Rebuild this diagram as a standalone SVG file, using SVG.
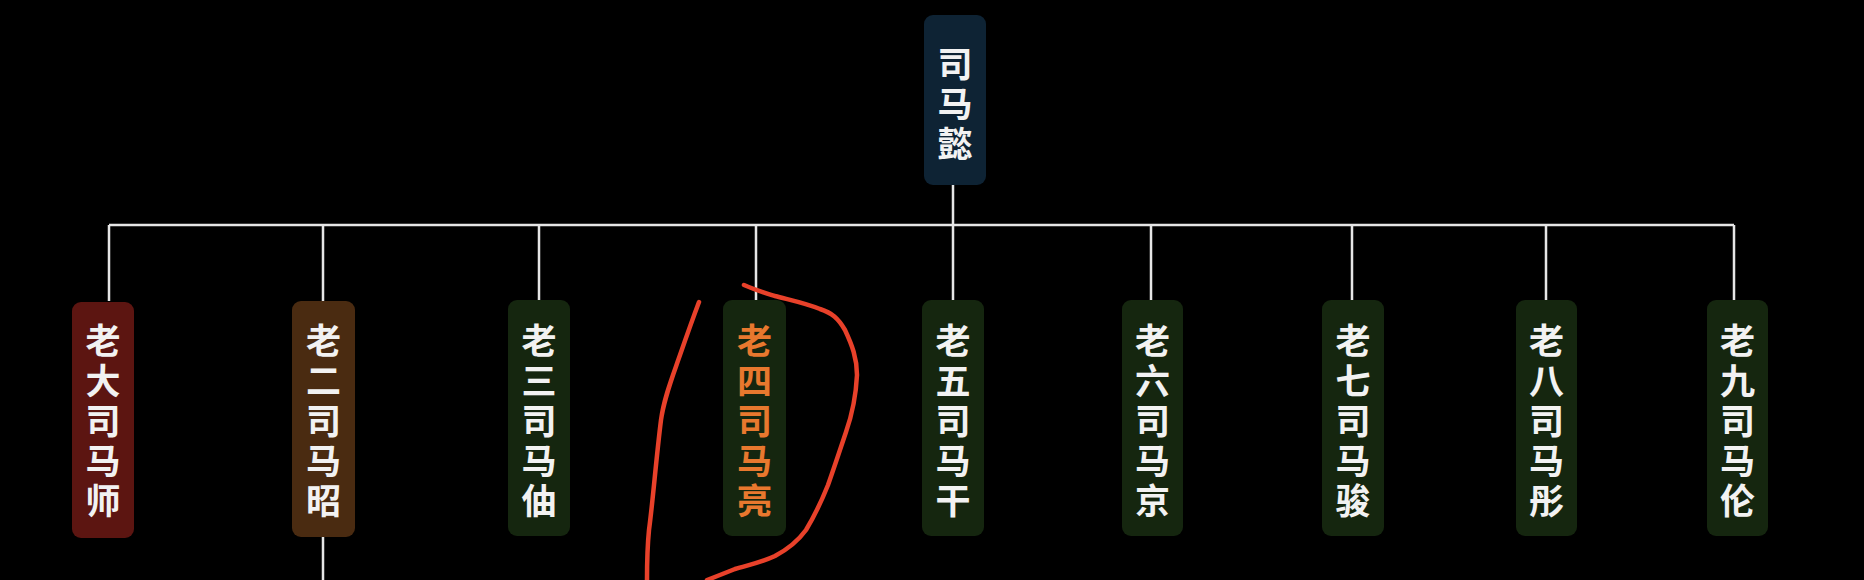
<svg xmlns="http://www.w3.org/2000/svg" width="1864" height="580" viewBox="0 0 1864 580">
<style>
.bg{fill:#000}
.box{rx:9;ry:9}
.root{fill:#0e2334}
.red{fill:#5c1511}
.brown{fill:#4a2b11}
.green{fill:#15260f}
.t{font-family:"Noto Sans CJK SC","Noto Sans CJK TC",sans-serif;font-size:35px;font-weight:700;fill:#f2f2f2;text-anchor:middle;dominant-baseline:central}
.o{fill:#e8782e}
.ln{stroke:#e6e6e6;stroke-width:2.5;fill:none}
.ann{stroke:#e8412a;stroke-width:4.5;fill:none;stroke-linecap:round;stroke-linejoin:round}
</style>
<rect class="bg" x="0" y="0" width="1864" height="580"/>
<g id="connectors">
<path class="ln" d="M953 185V225M109 225H1734M109 225V301M323 225V301M539 225V301M756 225V301M953 225V301M1151 225V301M1352 225V301M1546 225V301M1734 225V301M323 537V580"/>
</g>
<g id="root">
<rect class="box root" x="924" y="15" width="62" height="170"/>
<text class="t"><tspan x="955" y="61">司</tspan><tspan x="955" y="101">马</tspan><tspan x="955" y="141">懿</tspan></text>
</g>
<g id="n1">
<rect class="box red" x="72" y="302" width="62" height="236"/>
<text class="t"><tspan x="103" y="338">老</tspan><tspan x="103" y="378">大</tspan><tspan x="103" y="418">司</tspan><tspan x="103" y="458">马</tspan><tspan x="103" y="498">师</tspan></text>
</g>
<g id="n2">
<rect class="box brown" x="292" y="301" width="63" height="236"/>
<text class="t"><tspan x="323.5" y="338">老</tspan><tspan x="323.5" y="378">二</tspan><tspan x="323.5" y="418">司</tspan><tspan x="323.5" y="458">马</tspan><tspan x="323.5" y="498">昭</tspan></text>
</g>
<g id="n3">
<rect class="box green" x="508" y="300" width="62" height="236"/>
<text class="t"><tspan x="539" y="338">老</tspan><tspan x="539" y="378">三</tspan><tspan x="539" y="418">司</tspan><tspan x="539" y="458">马</tspan><tspan x="539" y="498">伷</tspan></text>
</g>
<g id="n4">
<rect class="box green" x="723" y="300" width="63" height="236"/>
<text class="t o"><tspan x="754.5" y="338">老</tspan><tspan x="754.5" y="378">四</tspan><tspan x="754.5" y="418">司</tspan><tspan x="754.5" y="458">马</tspan><tspan x="754.5" y="498">亮</tspan></text>
</g>
<g id="n5">
<rect class="box green" x="922" y="300" width="62" height="236"/>
<text class="t"><tspan x="953" y="338">老</tspan><tspan x="953" y="378">五</tspan><tspan x="953" y="418">司</tspan><tspan x="953" y="458">马</tspan><tspan x="953" y="498">干</tspan></text>
</g>
<g id="n6">
<rect class="box green" x="1122" y="300" width="61" height="236"/>
<text class="t"><tspan x="1152.5" y="338">老</tspan><tspan x="1152.5" y="378">六</tspan><tspan x="1152.5" y="418">司</tspan><tspan x="1152.5" y="458">马</tspan><tspan x="1152.5" y="498">京</tspan></text>
</g>
<g id="n7">
<rect class="box green" x="1322" y="300" width="62" height="236"/>
<text class="t"><tspan x="1353" y="338">老</tspan><tspan x="1353" y="378">七</tspan><tspan x="1353" y="418">司</tspan><tspan x="1353" y="458">马</tspan><tspan x="1353" y="498">骏</tspan></text>
</g>
<g id="n8">
<rect class="box green" x="1516" y="300" width="61" height="236"/>
<text class="t"><tspan x="1546.5" y="338">老</tspan><tspan x="1546.5" y="378">八</tspan><tspan x="1546.5" y="418">司</tspan><tspan x="1546.5" y="458">马</tspan><tspan x="1546.5" y="498">彤</tspan></text>
</g>
<g id="n9">
<rect class="box green" x="1707" y="300" width="61" height="236"/>
<text class="t"><tspan x="1737.5" y="338">老</tspan><tspan x="1737.5" y="378">九</tspan><tspan x="1737.5" y="418">司</tspan><tspan x="1737.5" y="458">马</tspan><tspan x="1737.5" y="498">伦</tspan></text>
</g>
<g id="annotation">
<path class="ann" d="M699 302C693 318 688 332 680 355C672 378 664 398 661 420C656 460 653 500 649 530C647 550 647 565 647 580"/>
<path class="ann" d="M744 285C755 290 762 292 775 296C790 300 805 303 820 309C832 313 838 318 845 330C852 345 857 358 857 375C856 395 853 412 846 432C840 450 834 468 828 485C822 500 815 515 806 530C798 541 790 548 775 556C760 563 748 565 735 569C725 573 715 577 707 580"/>
</g>
</svg>
